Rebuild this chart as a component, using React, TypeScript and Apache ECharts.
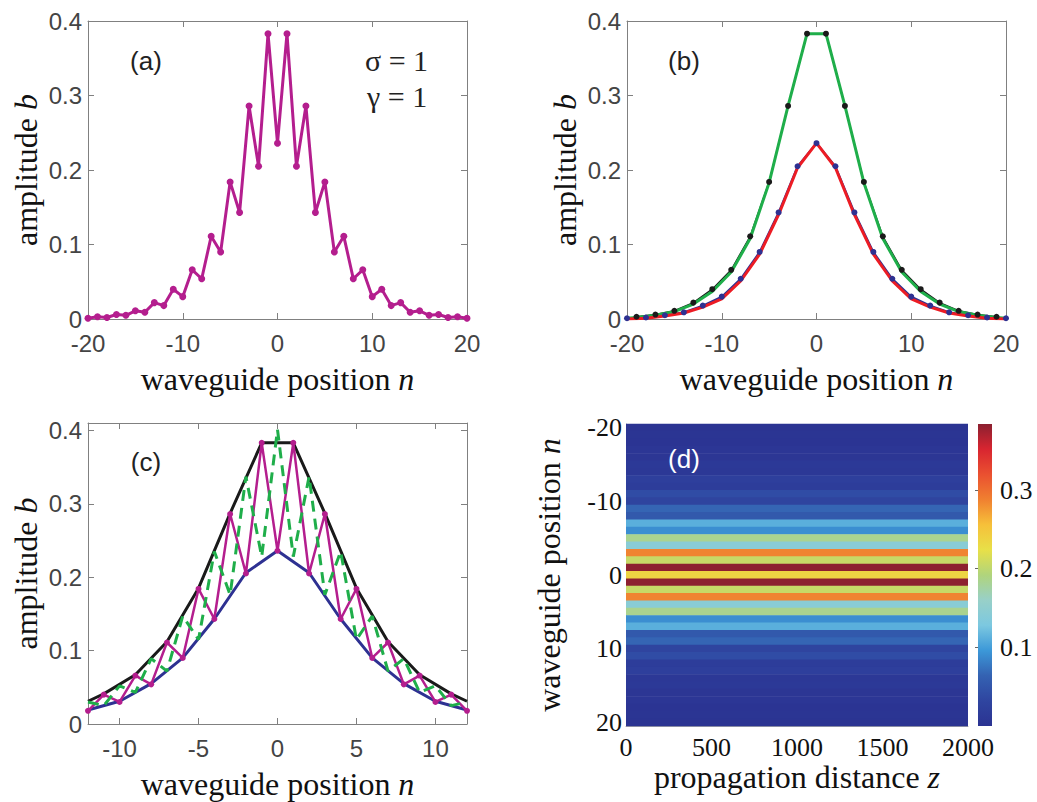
import React, { useEffect, useRef } from 'react';
import * as echarts from 'echarts';

// ---------- data ----------
const nAll = [-20,-19,-18,-17,-16,-15,-14,-13,-12,-11,-10,-9,-8,-7,-6,-5,-4,-3,-2,-1,0,1,2,3,4,5,6,7,8,9,10,11,12,13,14,15,16,17,18,19,20];
const ampA = [0.001,0.003,0.002,0.006,0.005,0.011,0.009,0.022,0.018,0.040,0.030,0.066,0.054,0.111,0.090,0.184,0.143,0.286,0.205,0.383,0.236,0.383,0.205,0.286,0.143,0.184,0.090,0.111,0.054,0.066,0.030,0.040,0.018,0.022,0.009,0.011,0.005,0.006,0.002,0.003,0.001];

const oddN = [-19,-17,-15,-13,-11,-9,-7,-5,-3,-1,1,3,5,7,9,11,13,15,17,19];
const blackB = [0.003,0.006,0.011,0.022,0.040,0.066,0.111,0.184,0.286,0.383,0.383,0.286,0.184,0.111,0.066,0.040,0.022,0.011,0.006,0.003];
const greenBN = [-20,-19,-17,-15,-13,-11,-9,-7,-5,-3,-1,1,3,5,7,9,11,13,15,17,19,20];
const greenB = [0.001,0.002,0.005,0.010,0.020,0.037,0.063,0.108,0.183,0.286,0.383,0.383,0.286,0.183,0.108,0.063,0.037,0.020,0.010,0.005,0.002,0.001];
const evenN = [-20,-18,-16,-14,-12,-10,-8,-6,-4,-2,0,2,4,6,8,10,12,14,16,18,20];
const blueB = [0.001,0.002,0.005,0.009,0.018,0.030,0.054,0.090,0.143,0.205,0.236,0.205,0.143,0.090,0.054,0.030,0.018,0.009,0.005,0.002,0.001];
const redB = [0.000,0.001,0.004,0.008,0.016,0.027,0.051,0.087,0.140,0.203,0.236,0.203,0.140,0.087,0.051,0.027,0.016,0.008,0.004,0.001,0.000];

const nC = [-12,-11,-10,-9,-8,-7,-6,-5,-4,-3,-2,-1,0,1,2,3,4,5,6,7,8,9,10,11,12];
const magentaC = [0.018,0.040,0.030,0.066,0.054,0.111,0.090,0.184,0.143,0.286,0.205,0.383,0.236,0.383,0.205,0.286,0.143,0.184,0.090,0.111,0.054,0.066,0.030,0.040,0.018];
const greenC = [0.030,0.025,0.052,0.043,0.089,0.072,0.147,0.115,0.235,0.176,0.337,0.228,0.401,0.228,0.337,0.176,0.235,0.115,0.147,0.072,0.089,0.043,0.052,0.025,0.030];
const upperCN = [-12,-11,-9,-7,-5,-3,-1,1,3,5,7,9,11,12];
const upperC = [0.031,0.041,0.067,0.112,0.185,0.287,0.383,0.383,0.287,0.185,0.112,0.067,0.041,0.031];
const lowerCN = [-12,-10,-8,-6,-4,-2,0,2,4,6,8,10,12];
const lowerC = [0.019,0.031,0.055,0.090,0.143,0.206,0.236,0.206,0.143,0.090,0.055,0.031,0.019];

const zRange = [0, 2000];

const xTicksC = [-10, -5, 0, 5, 10];
const yTicksD = [-20, -10, 0, 10, 20];
const cbTicks = [0.1, 0.2, 0.3];
const cbMin = 0;
const cbMax = 0.384;
const cmapColors = ['#2b3392','#2f45a0','#3462b2','#3c98d8','#7cc8e0','#98d0c8','#b0d47c','#e8e048','#f6c03a','#f08030','#ea5030','#d82530','#8b2030'];

// ---------- styles ----------
const SANS = 'Liberation Sans';
const SERIF = 'Liberation Serif';
const AX = '#808080';
const MAG = '#b41e8e';
const GREEN = '#1fae4a';
const BLUE = '#2e3192';
const RED = '#ec1c24';
const BLACK = '#1a1a1a';

const zip = (xs: number[], ys: number[]) => xs.map((x, i) => [x, ys[i]]);
const plain = (v: number) => String(v);
const serifRich = (v: number) => `{s|${v}}`;

const titleStyle = {
  fontFamily: SERIF, fontSize: 32, color: '#111',
  rich: { i: { fontFamily: SERIF, fontSize: 32, fontStyle: 'italic', color: '#111' } },
};
const sansLabel = { fontFamily: SANS, fontSize: 24, color: '#444' };
const serifLabel = {
  fontFamily: SERIF, fontSize: 26, color: '#111',
  rich: { s: { fontFamily: SERIF, fontSize: 26, color: '#111' } },
};
const tick = { show: true, inside: true, length: 6, lineStyle: { color: AX } };
const aLine = { show: true, onZero: false, lineStyle: { color: AX, width: 1 } };

function boxAxes(grid: number, xc: any, yc: any, xName: string, yName: string) {
  const cv = xc.customValues;
  const xr = { min: xc.min, max: xc.max, ...(xc.interval ? { interval: xc.interval } : {}) };
  const xs = [
    { type: 'value', gridIndex: grid, position: 'bottom', ...xr, axisLine: aLine,
      axisTick: { ...tick, ...(cv ? { customValues: cv } : {}) },
      splitLine: { show: false },
      axisLabel: { ...sansLabel, margin: 12, formatter: plain, ...(cv ? { customValues: cv } : {}) },
      name: xName, nameLocation: 'middle', nameGap: 44, nameTextStyle: titleStyle },
    { type: 'value', gridIndex: grid, position: 'top', ...xr, axisLine: aLine,
      axisTick: { ...tick, ...(cv ? { customValues: cv } : {}) },
      splitLine: { show: false }, axisLabel: { show: false } },
  ];
  const ys = [
    { type: 'value', gridIndex: grid, position: 'left', ...yc, axisLine: aLine, axisTick: tick,
      splitLine: { show: false }, axisLabel: { ...sansLabel, margin: 6, showMaxLabel: yc.max === 0.4 },
      name: yName, nameLocation: 'middle', nameGap: 46, nameTextStyle: titleStyle },
    { type: 'value', gridIndex: grid, position: 'right', ...yc, axisLine: aLine, axisTick: tick,
      splitLine: { show: false }, axisLabel: { show: false } },
  ];
  return { xs, ys };
}

function buildOption() {
  const A = boxAxes(0, { min: -20, max: 20, interval: 10 }, { min: 0, max: 0.4, interval: 0.1 }, 'waveguide position {i|n}', 'amplitude {i|b}');
  const B = boxAxes(1, { min: -20, max: 20, interval: 10 }, { min: 0, max: 0.4, interval: 0.1 }, 'waveguide position {i|n}', 'amplitude {i|b}');
  const C = boxAxes(2, { min: -12, max: 12, customValues: xTicksC }, { min: 0, max: 0.41, interval: 0.1 }, 'waveguide position {i|n}', 'amplitude {i|b}');

  const heatData = nAll.map((n, i) => [zRange[0], zRange[1], n, ampA[i]]);

  const xAxis: any[] = [
    ...A.xs, ...B.xs, ...C.xs,
    { type: 'value', gridIndex: 3, min: 0, max: 2000, interval: 500, position: 'bottom',
      axisLine: { show: true, onZero: false, lineStyle: { color: '#aaa' } }, axisTick: { show: false },
      splitLine: { show: false },
      axisLabel: { ...serifLabel, margin: 8, formatter: serifRich },
      name: 'propagation distance {i|z}', nameLocation: 'middle', nameGap: 34, nameTextStyle: titleStyle },
    { type: 'value', gridIndex: 4, show: false, min: 0, max: 1 },
  ];
  const yAxis: any[] = [
    ...A.ys, ...B.ys, ...C.ys,
    { type: 'value', gridIndex: 3, inverse: true, min: -20.5, max: 20.5, position: 'left',
      axisLine: { show: true, onZero: false, lineStyle: { color: '#aaa' } }, axisTick: { show: false, customValues: yTicksD },
      splitLine: { show: false },
      axisLabel: { ...serifLabel, margin: 4, customValues: yTicksD, formatter: serifRich },
      name: 'waveguide position {i|n}', nameLocation: 'middle', nameGap: 61, nameTextStyle: titleStyle },
    { type: 'value', gridIndex: 4, position: 'right', min: cbMin, max: cbMax,
      axisLine: { show: false }, splitLine: { show: false },
      axisTick: { show: true, inside: true, length: 3, customValues: cbTicks, lineStyle: { color: '#666' } },
      axisLabel: { ...serifLabel, margin: 8, customValues: cbTicks, formatter: serifRich } },
  ];

  const series: any[] = [
    // (a)
    { type: 'line', xAxisIndex: 0, yAxisIndex: 0, data: zip(nAll, ampA), symbol: 'circle', symbolSize: 7,
      lineStyle: { color: MAG, width: 3 }, itemStyle: { color: MAG } },
    // (b)
    { type: 'line', xAxisIndex: 2, yAxisIndex: 2, data: zip(oddN, blackB), symbol: 'circle', symbolSize: 6,
      lineStyle: { color: BLACK, width: 1.5 }, itemStyle: { color: BLACK } },
    { type: 'line', xAxisIndex: 2, yAxisIndex: 2, data: zip(evenN, blueB), symbol: 'circle', symbolSize: 6,
      lineStyle: { color: BLUE, width: 2 }, itemStyle: { color: BLUE } },
    { type: 'line', xAxisIndex: 2, yAxisIndex: 2, data: zip(greenBN, greenB), symbol: 'none',
      lineStyle: { color: GREEN, width: 3 } },
    { type: 'line', xAxisIndex: 2, yAxisIndex: 2, data: zip(evenN, redB), symbol: 'none',
      lineStyle: { color: RED, width: 3 } },
    // (c)
    { type: 'line', xAxisIndex: 4, yAxisIndex: 4, data: zip(upperCN, upperC), symbol: 'none',
      lineStyle: { color: BLACK, width: 3 } },
    { type: 'line', xAxisIndex: 4, yAxisIndex: 4, data: zip(lowerCN, lowerC), symbol: 'none',
      lineStyle: { color: BLUE, width: 3 } },
    { type: 'line', xAxisIndex: 4, yAxisIndex: 4, data: zip(nC, magentaC), symbol: 'circle', symbolSize: 6,
      lineStyle: { color: MAG, width: 2.5 }, itemStyle: { color: MAG } },
    { type: 'line', xAxisIndex: 4, yAxisIndex: 4, data: zip(nC, greenC), symbol: 'none',
      lineStyle: { color: GREEN, width: 3, type: [11, 7] } },
    // (d)
    { type: 'custom', xAxisIndex: 6, yAxisIndex: 6, data: heatData,
      dimensions: ['z0', 'z1', 'n', 'b'], encode: { x: [0, 1], y: 2 },
      renderItem: (params: any, api: any) => {
        const p0 = api.coord([api.value(0), api.value(2) - 0.5]);
        const p1 = api.coord([api.value(1), api.value(2) + 0.5]);
        return {
          type: 'rect',
          shape: { x: Math.min(p0[0], p1[0]), y: Math.min(p0[1], p1[1]) - 0.3,
            width: Math.abs(p1[0] - p0[0]), height: Math.abs(p1[1] - p0[1]) + 0.6 },
          style: { fill: api.visual('color') },
        };
      } },
  ];

  const txt = (text: string, x: number, y: number, family: string, size: number, fill = '#222', align = 'center') => ({
    type: 'text', x, y, z: 100,
    style: {
      text: `{t|${text}}`, fill, fontFamily: family, fontSize: size,
      align, textAlign: align, verticalAlign: 'middle', textVerticalAlign: 'middle',
      rich: { t: { fontFamily: family, fontSize: size, fill, color: fill } },
    },
  });

  const gradient = new echarts.graphic.LinearGradient(0, 1, 0, 0,
    cmapColors.map((c, i) => ({ offset: i / (cmapColors.length - 1), color: c })));

  return {
    animation: false,
    backgroundColor: '#fff',
    grid: [
      { left: 88, top: 21, width: 379, height: 298, outerBoundsMode: 'none' },
      { left: 627, top: 21, width: 379, height: 298, outerBoundsMode: 'none' },
      { left: 88, top: 423, width: 379, height: 301, outerBoundsMode: 'none' },
      { left: 626, top: 424, width: 342, height: 302, outerBoundsMode: 'none' },
      { left: 978, top: 424, width: 14, height: 302, outerBoundsMode: 'none' },
    ],
    xAxis, yAxis, series,
    visualMap: { type: 'continuous', show: false, min: cbMin, max: cbMax, dimension: 3, seriesIndex: 9,
      inRange: { color: cmapColors } },
    graphic: [
      { type: 'rect', shape: { x: 978, y: 424, width: 14, height: 302 }, style: { fill: gradient }, z: 50 },
      txt('(a)', 146, 61, SANS, 26),
      txt('(b)', 684, 61, SANS, 26),
      txt('(c)', 146, 462, SANS, 26),
      txt('(d)', 684, 459, SANS, 26, '#fff'),
      txt('σ = 1', 365, 60, SERIF, 30, '#222', 'left'),
      txt('γ = 1', 367, 96, SERIF, 30, '#222', 'left'),
    ],
  };
}

export default function App() {
  const ref = useRef<HTMLDivElement>(null);
  useEffect(() => {
    const chart = echarts.init(ref.current!, null, { renderer: 'svg' });
    chart.setOption(buildOption() as any);
    return () => chart.dispose();
  }, []);
  return <div ref={ref} style={{ position: 'fixed', left: 0, top: 0, width: 1037, height: 802, background: '#fff' }} />;
}
